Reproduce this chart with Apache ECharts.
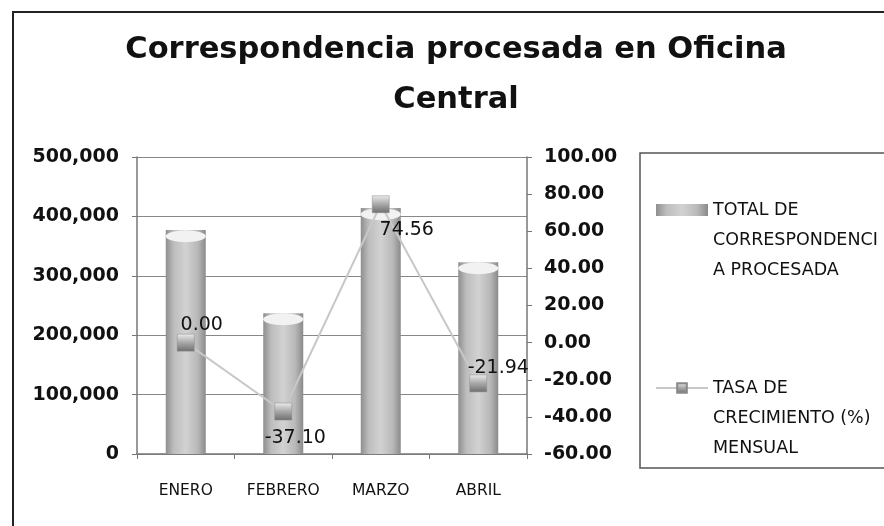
<!DOCTYPE html>
<html><head><meta charset="utf-8">
<script src="https://cdn.jsdelivr.net/npm/echarts@6/dist/echarts.min.js"></script>
<style>html,body{margin:0;padding:0;background:#fff}#c{width:884px;height:526px}</style>
</head><body><div id="c"></div>
<script>
const categories = ['ENERO', 'FEBRERO', 'MARZO', 'ABRIL'];
const totalCorrespondencia = [377000, 237000, 414000, 323000];
const tasaCrecimiento = [0.00, -37.10, 74.56, -21.94];
const leftTicks = [0, 100000, 200000, 300000, 400000, 500000];
const rightTicks = [-60, -40, -20, 0, 20, 40, 60, 80, 100];
const barName = 'TOTAL DE CORRESPONDENCIA PROCESADA';
const lineName = 'TASA DE CRECIMIENTO (%) MENSUAL';
const labelPlacement = ['top', 'bottom', 'bottom', 'top'];
const labelShift = [[16, 5], [12, 4], [26, 4], [20, 7]];

const FONT = '"DejaVu Sans"';
const chart = echarts.init(document.getElementById('c'));
const barGrad = new echarts.graphic.LinearGradient(0, 0, 1, 0, [
  {offset: 0, color: '#8e8e8e'}, {offset: 0.2, color: '#bdbdbd'},
  {offset: 0.5, color: '#d2d2d2'}, {offset: 0.8, color: '#b8b8b8'}, {offset: 1, color: '#8a8a8a'}]);
const markGrad = new echarts.graphic.LinearGradient(0, 0, 0, 1, [
  {offset: 0, color: '#ececec'}, {offset: 0.5, color: '#a8a8a8'}, {offset: 1, color: '#6e6e6e'}]);

chart.setOption({
  animation: false,
  backgroundColor: '#fff',
  title: {
    text: 'Correspondencia procesada en Oficina\nCentral',
    left: 451, top: 20, textAlign: 'center',
    textStyle: {fontFamily: FONT, fontWeight: 'bold', fontSize: 30.5, lineHeight: 50, color: '#111'}
  },
  graphic: [
    {type: 'rect', shape: {x: 13, y: 12, width: 900, height: 600}, style: {fill: 'none', stroke: '#222', lineWidth: 2}, z: -1},
    {type: 'rect', shape: {x: 640, y: 153, width: 260, height: 315}, style: {fill: 'none', stroke: '#555', lineWidth: 1.5}, z: -1}
  ],
  legend: {
    orient: 'vertical', left: 650, top: 130, itemGap: 28,
    itemWidth: 52, itemHeight: 12, itemTextGap: 5,
    data: [{name: barName, icon: 'rect'}, {name: lineName}],
    formatter: function (n) {
      return n === barName ? '\n\nTOTAL DE\nCORRESPONDENCI\nA PROCESADA' : '\n\nTASA DE\nCRECIMIENTO (%)\nMENSUAL';
    },
    textStyle: {fontFamily: FONT, fontSize: 17.5, lineHeight: 30, color: '#111'}
  },
  grid: {left: 137, right: 357, top: 157, bottom: 72},
  xAxis: {
    type: 'category', data: categories,
    axisLine: {lineStyle: {color: '#777', width: 1.5}},
    axisTick: {show: true, alignWithLabel: false, length: 5, lineStyle: {color: '#777'}},
    axisLabel: {fontFamily: FONT, fontSize: 15.5, color: '#111', margin: 29}
  },
  yAxis: [{
    type: 'value', min: 0, max: 500000, interval: 100000,
    axisLine: {show: true, lineStyle: {color: '#777', width: 1.5}},
    axisTick: {show: true, length: 5, lineStyle: {color: '#777'}},
    splitLine: {lineStyle: {color: '#888', width: 1.2}},
    axisLabel: {fontFamily: FONT, fontSize: 19, fontWeight: 'bold', color: '#111', margin: 18,
      formatter: v => leftTicks.includes(v) ? v.toLocaleString('en-US') : ''}
  }, {
    type: 'value', min: -60, max: 100, interval: 20,
    axisLine: {show: true, lineStyle: {color: '#777', width: 1.5}},
    axisTick: {show: true, length: 5, lineStyle: {color: '#777'}},
    splitLine: {show: false},
    axisLabel: {fontFamily: FONT, fontSize: 19, fontWeight: 'bold', color: '#111', margin: 17,
      formatter: v => rightTicks.includes(v) ? v.toFixed(2) : ''}
  }],
  series: [{
    name: barName, type: 'bar', data: totalCorrespondencia, barWidth: 40,
    itemStyle: {color: barGrad}, z: 2
  }, {
    name: barName, type: 'pictorialBar', data: totalCorrespondencia,
    symbol: 'circle', symbolSize: [40, 12], symbolPosition: 'end', symbolOffset: [0, 0],
    itemStyle: {color: '#f2f2f2', borderColor: '#bbb', borderWidth: 0.5}, z: 3, legendHoverLink: false
  }, {
    name: lineName, type: 'line', yAxisIndex: 1,
    data: tasaCrecimiento.map((v, i) => ({value: v, label: {position: labelPlacement[i], offset: labelShift[i]}})),
    symbol: 'rect', symbolSize: 17,
    lineStyle: {color: '#c8c8c8', width: 2},
    itemStyle: {color: markGrad, borderColor: '#888', borderWidth: 0.5},
    label: {show: true, fontFamily: FONT, fontSize: 19, color: '#111', distance: 4,
      formatter: p => p.value.toFixed(2)},
    z: 5
  }]
});
</script></body></html>
